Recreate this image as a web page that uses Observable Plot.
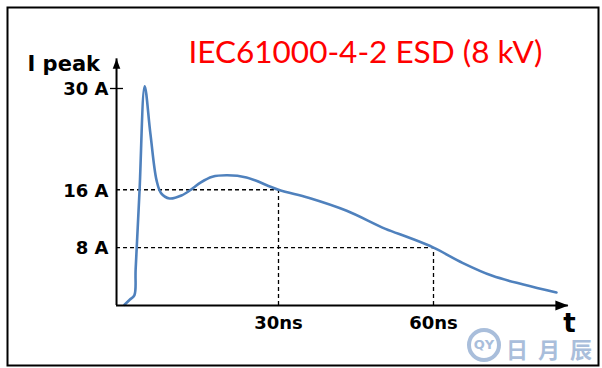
<!DOCTYPE html>
<html>
<head>
<meta charset="utf-8">
<script src="https://cdn.jsdelivr.net/npm/d3@7"></script>
<script src="https://cdn.jsdelivr.net/npm/@observablehq/plot@0.6"></script>
<style>
  html, body { margin: 0; padding: 0; background: #fff; }
  #wrap { position: relative; width: 602px; height: 368px; }
  #wrap svg { display: block; }
  .logo { position: absolute; left: 467px; top: 328px; width: 26px; height: 26px;
    border: 4px solid #a9bedb; border-radius: 50%; color: #a9bedb;
    font: 700 13px "DejaVu Sans", sans-serif; text-align: center; line-height: 26px; }
  .brand { position: absolute; left: 506px; top: 338px; color: #a9bedb;
    font: 700 22px "Noto Sans CJK SC", sans-serif; letter-spacing: 10px; line-height: 20px; }
</style>
</head>
<body>
<div id="wrap"></div>
<script>
// ---- data ----
const timeNs   = [0.2, 1.2, 2.1, 2.35, 3.1, 4.1, 5.2, 6.4, 7.3, 8.9, 11.2, 13.4, 14.9, 17.2, 20.1, 23.8, 30, 35.8, 43.2, 50.7, 55.2, 60, 65.6, 71.4, 77.4, 83.8];
const currentA = [0.1, 0.8, 1.4, 5.0, 15.8, 30.3, 23.8, 17.3, 15.5, 14.8, 15.2, 16.2, 17.0, 17.8, 18.0, 17.7, 16.0, 14.9, 13.1, 10.6, 9.4, 8.0, 5.9, 4.1, 2.9, 1.8];

const yTickValues = [30, 16, 8];
const yTickLabels = ["30 A", "16 A", "8 A"];
const xTickValues = [30, 60];
const xTickLabels = ["30ns", "60ns"];

// reference (dashed) crossings: current level reached at time
const refTime    = [30, 60];
const refCurrent = [16, 8];

// axis extents (data units)
const axisXStart = -1.35;
const axisXEnd   = 86.1;
const axisYEnd   = 34.1;

const titleText = "IEC61000-4-2 ESD (8 kV)";
const yLabel = "I peak";
const xLabel = "t";

// ---- build ----
const wave = timeNs.map((t, i) => ({t, a: currentA[i]}));
const yTicks = yTickValues.map((v, i) => ({v, label: yTickLabels[i]}));
const xTicks = xTickValues.map((v, i) => ({v, label: xTickLabels[i]}));
const refs = refTime.map((t, i) => ({t, a: refCurrent[i]}));

const arrowUp = {draw(ctx) { ctx.moveTo(0, 0); ctx.lineTo(-3.8, 10); ctx.lineTo(3.8, 10); ctx.closePath(); }};
const arrowRight = {draw(ctx) { ctx.moveTo(0, 0); ctx.lineTo(-13, -5); ctx.lineTo(-13, 5); ctx.closePath(); }};

const bold = "DejaVu Sans";

const chart = Plot.plot({
  width: 602,
  height: 368,
  marginLeft: 7,
  marginRight: 4,
  marginTop: 7,
  marginBottom: 3,
  x: {domain: [0, 60], range: [123, 433], axis: null},
  y: {domain: [0, 30], range: [305, 88], axis: null},
  marks: [
    Plot.frame({stroke: "black", strokeWidth: 2}),
    // dashed guides
    Plot.ruleY(refs, {y: "a", x1: axisXStart, x2: "t", stroke: "black", strokeWidth: 1.3, strokeDasharray: "4,3"}),
    Plot.ruleX(refs, {x: "t", y1: 0, y2: "a", stroke: "black", strokeWidth: 1.3, strokeDasharray: "4,3"}),
    // waveform
    Plot.line(wave, {x: "t", y: "a", curve: "catmull-rom", stroke: "#4f81bd", strokeWidth: 2.6}),
    // axes
    Plot.ruleX([axisXStart], {y1: 0, y2: axisYEnd, stroke: "black", strokeWidth: 2}),
    Plot.ruleY([0], {x1: axisXStart, x2: axisXEnd, stroke: "black", strokeWidth: 2}),
    Plot.dot([axisYEnd], {x: axisXStart, y: d => d, symbol: arrowUp, fill: "black", stroke: null}),
    Plot.dot([axisXEnd], {x: d => d, y: 0, symbol: arrowRight, fill: "black", stroke: null}),
    // top tick
    Plot.ruleY([yTickValues[0]], {x1: axisXStart, x2: axisXStart, insetLeft: -6, insetRight: -7, stroke: "black", strokeWidth: 1.3}),
    // tick labels
    Plot.text(yTicks, {x: axisXStart, y: "v", text: "label", textAnchor: "end", lineAnchor: "middle", dx: -8, dy: 1,
      fontFamily: bold, fontWeight: "bold", fontSize: 18, fill: "black"}),
    Plot.text(xTicks, {x: "v", y: 0, text: "label", textAnchor: "middle", lineAnchor: "bottom", dy: 23,
      fontFamily: bold, fontWeight: "bold", fontSize: 18, fill: "black"}),
    // axis labels
    Plot.text([yLabel], {frameAnchor: "top-left", textAnchor: "start", lineAnchor: "bottom", dx: 20, dy: 63,
      fontFamily: bold, fontWeight: "bold", fontSize: 21, fill: "black"}),
    Plot.text([xLabel], {frameAnchor: "top-left", textAnchor: "middle", lineAnchor: "bottom", dx: 562, dy: 324,
      fontFamily: bold, fontWeight: "bold", fontSize: 26, fill: "black"}),
    // title
    Plot.text([titleText], {frameAnchor: "top-left", textAnchor: "start", lineAnchor: "bottom", dx: 181, dy: 55,
      fontFamily: "Lato", fontSize: 31.5, fill: "#ff0000"})
  ]
});

const wrap = document.getElementById("wrap");
wrap.appendChild(chart);
const logo = document.createElement("div");
logo.className = "logo";
logo.textContent = "QY";
wrap.appendChild(logo);
const brand = document.createElement("div");
brand.className = "brand";
brand.textContent = "日月辰";
wrap.appendChild(brand);
</script>
</body>
</html>
